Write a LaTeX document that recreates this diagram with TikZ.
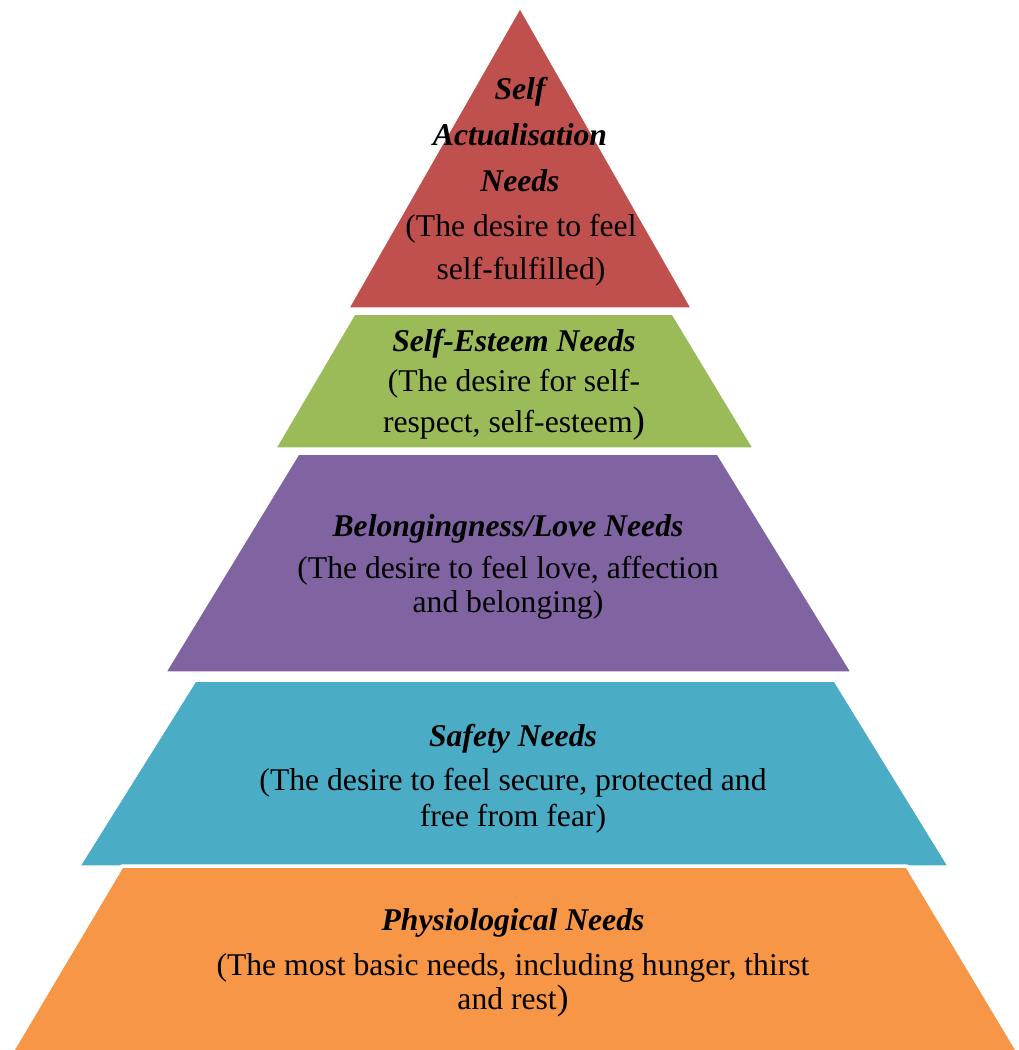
\documentclass[tikz,border=0pt]{standalone}
\usepackage{fontspec}
\setmainfont{Liberation Serif}
\usepackage{xcolor}
\usepackage{tikz}
\usetikzlibrary{positioning}

\definecolor{actred}{HTML}{C0504D}
\definecolor{esteemgreen}{HTML}{9BBB59}
\definecolor{lovepurple}{HTML}{8064A2}
\definecolor{safetyblue}{HTML}{4BACC6}
\definecolor{physorange}{HTML}{F79646}

\begin{document}
\begin{tikzpicture}[x=0.01cm, y=-0.01cm, line join=round]
				\useasboundingbox (0,0) rectangle (1019,1050);
				% ---- corners of the five layers (pixel grid, y downwards) ----
				\coordinate (R1) at (520,  6);
				\coordinate (R2) at (347,309);
				\coordinate (R3) at (693,309);
				
				\coordinate (G1) at (354,313);
				\coordinate (G2) at (673,313);
				\coordinate (G3) at (755,449);
				\coordinate (G4) at (274,449);
				
				\coordinate (P1) at (298,453);
				\coordinate (P2) at (718,453);
				\coordinate (P3) at (853,673);
				\coordinate (P4) at (164,673);
				
				\coordinate (B1) at (195,680);
				\coordinate (B2) at (835,680);
				\coordinate (B3) at (950,867);
				\coordinate (B4) at (78, 867);
				
				\coordinate (O1) at (122,866);
				\coordinate (O2) at (907,866);
				\coordinate (O3) at (1022,1058);
				\coordinate (O4) at (8,  1058);
				
				% ---- the layers, top to bottom ----
				\tikzset{layer/.style={draw=white, line width=1pt}}
				\filldraw[layer, fill=actred]      (R1)--(R2)--(R3)--cycle;
				\filldraw[layer, fill=esteemgreen] (G1)--(G2)--(G3)--(G4)--cycle;
				\filldraw[layer, fill=lovepurple]  (P1)--(P2)--(P3)--(P4)--cycle;
				\filldraw[layer, fill=safetyblue]  (B1)--(B2)--(B3)--(B4)--cycle;
				\filldraw[layer, fill=physorange]  (O1)--(O2)--(O3)--(O4)--cycle;
				
				% ---- labels (titles bold italic, then the description) ----
				% base anchor sits on the last line of a node
				\tikzset{head/.style={align=center, inner sep=0pt, anchor=base,
						font=\fontsize{9}{13}\selectfont\bfseries\itshape},
					need/.style={align=center, inner sep=0pt, anchor=base,
						font=\fontsize{9}{#1}\selectfont}}
				\node[head] (act-t) at (520,191) {Self\\Actualisation\\Needs};
				\node[need=12.2] (act-d) at (521,279) {(The desire to feel\\self-fulfilled)};
				
				\node[head] (est-t) at (514,351) {Self-Esteem Needs};
				\node[need=11.4] (est-d) at (514,432) {(The desire for self-\\respect, self-esteem{\fontsize{10.5}{10.5}\selectfont)}};
				
				\node[head] (love-t) at (508,536) {Belongingness/Love Needs};
				\node[need=9.4] (love-d) at (508,612) {(The desire to feel love, affection\\and belonging)};
				
				\node[head] (safe-t) at (513,746) {Safety Needs};
				\node[need=10] (safe-d) at (513,826) {(The desire to feel secure, protected and\\free from fear)};
				
				\node[head] (phys-t) at (513,930) {Physiological Needs};
				\node[need=9.4] (phys-d) at (513,1009) {(The most basic needs, including hunger, thirst\\and rest{\fontsize{10}{10}\selectfont)}};
			\end{tikzpicture}
\end{document}
